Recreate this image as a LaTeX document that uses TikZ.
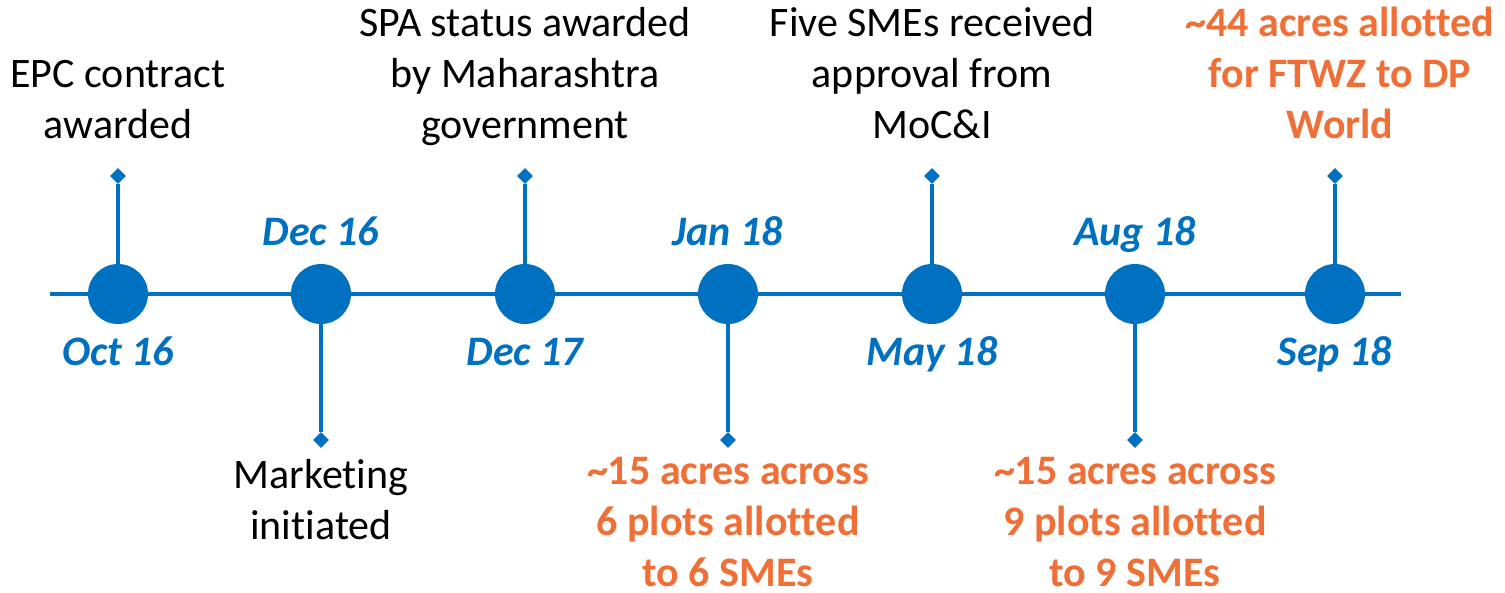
\documentclass[tikz,border=0pt]{standalone}
\usepackage{fontspec}
\setmainfont{Carlito}[Ligatures=CommonOff]
\usetikzlibrary{shapes.geometric}
\definecolor{tblue}{HTML}{0070C0}
\definecolor{torange}{HTML}{EF6F36}
\tikzset{
  ev/.style={circle, fill=tblue, minimum size=60pt, inner sep=0pt},
  tip/.style={diamond, fill=tblue, minimum size=16pt, inner sep=0pt},
  stem/.style={draw=tblue, line width=3.5pt},
  txt/.style={align=center, inner sep=0pt, font=\fontsize{42}{51}\selectfont},
  otxt/.style={txt, text=torange, font=\fontsize{42}{51}\selectfont\bfseries},
  date/.style={inner sep=0pt, text=tblue, font=\fontsize{42}{51}\selectfont\bfseries\itshape},
}
\begin{document}
\begin{tikzpicture}[x=1pt, y=-1pt]
\useasboundingbox (0,0) rectangle (1505,593);
% timeline
\coordinate (L) at (50,294);
\coordinate (R) at (1401,294);
\draw[stem] (L) -- (R);
% events
\foreach \n/\x in {1/118, 2/321, 3/525, 4/728, 5/932, 6/1135, 7/1335}
  \node[ev] (c\n) at (\x,294) {};
% up tips
\node[tip] (t1) at (118,176) {};
\node[tip] (t3) at (525,176) {};
\node[tip] (t5) at (932,176) {};
\node[tip] (t7) at (1335,176) {};
% down tips
\node[tip] (t2) at (321,440) {};
\node[tip] (t4) at (728,440) {};
\node[tip] (t6) at (1135,440) {};
\foreach \n in {1,...,7} \draw[stem] (c\n) -- (t\n);
% dates
\node[date, anchor=base] (d1) at (118,366) {Oct 16};
\node[date, anchor=base] (d2) at (321,246) {Dec 16};
\node[date, anchor=base] (d3) at (525,366) {Dec 17};
\node[date, anchor=base] (d4) at (728,246) {Jan 18};
\node[date, anchor=base] (d5) at (932,366) {May 18};
\node[date, anchor=base] (d6) at (1135,246) {Aug 18};
\node[date, anchor=base] (d7) at (1335,366) {Sep 18};
% top texts (anchor base = last line baseline)
\node[txt, anchor=base] (x1) at (118,139) {EPC contract\\awarded};
\node[txt, anchor=base] (x3) at (525,139) {SPA status awarded\\by Maharashtra\\government};
\node[txt, anchor=base] (x5) at (932,139) {Five SMEs received\\approval from\\MoC\&I};
\node[otxt, anchor=base] (x7) at (1340,139) {\textasciitilde44 acres allotted\\for FTWZ to DP\\World};
% bottom texts
\node[txt, anchor=base] (x2) at (321,539) {Marketing\\initiated};
\node[otxt, anchor=base] (x4) at (728,586) {\textasciitilde15 acres across\\6 plots allotted\\to 6 SMEs};
\node[otxt, anchor=base] (x6) at (1135,586) {\textasciitilde15 acres across\\9 plots allotted\\to 9 SMEs};
\end{tikzpicture}
\end{document}
